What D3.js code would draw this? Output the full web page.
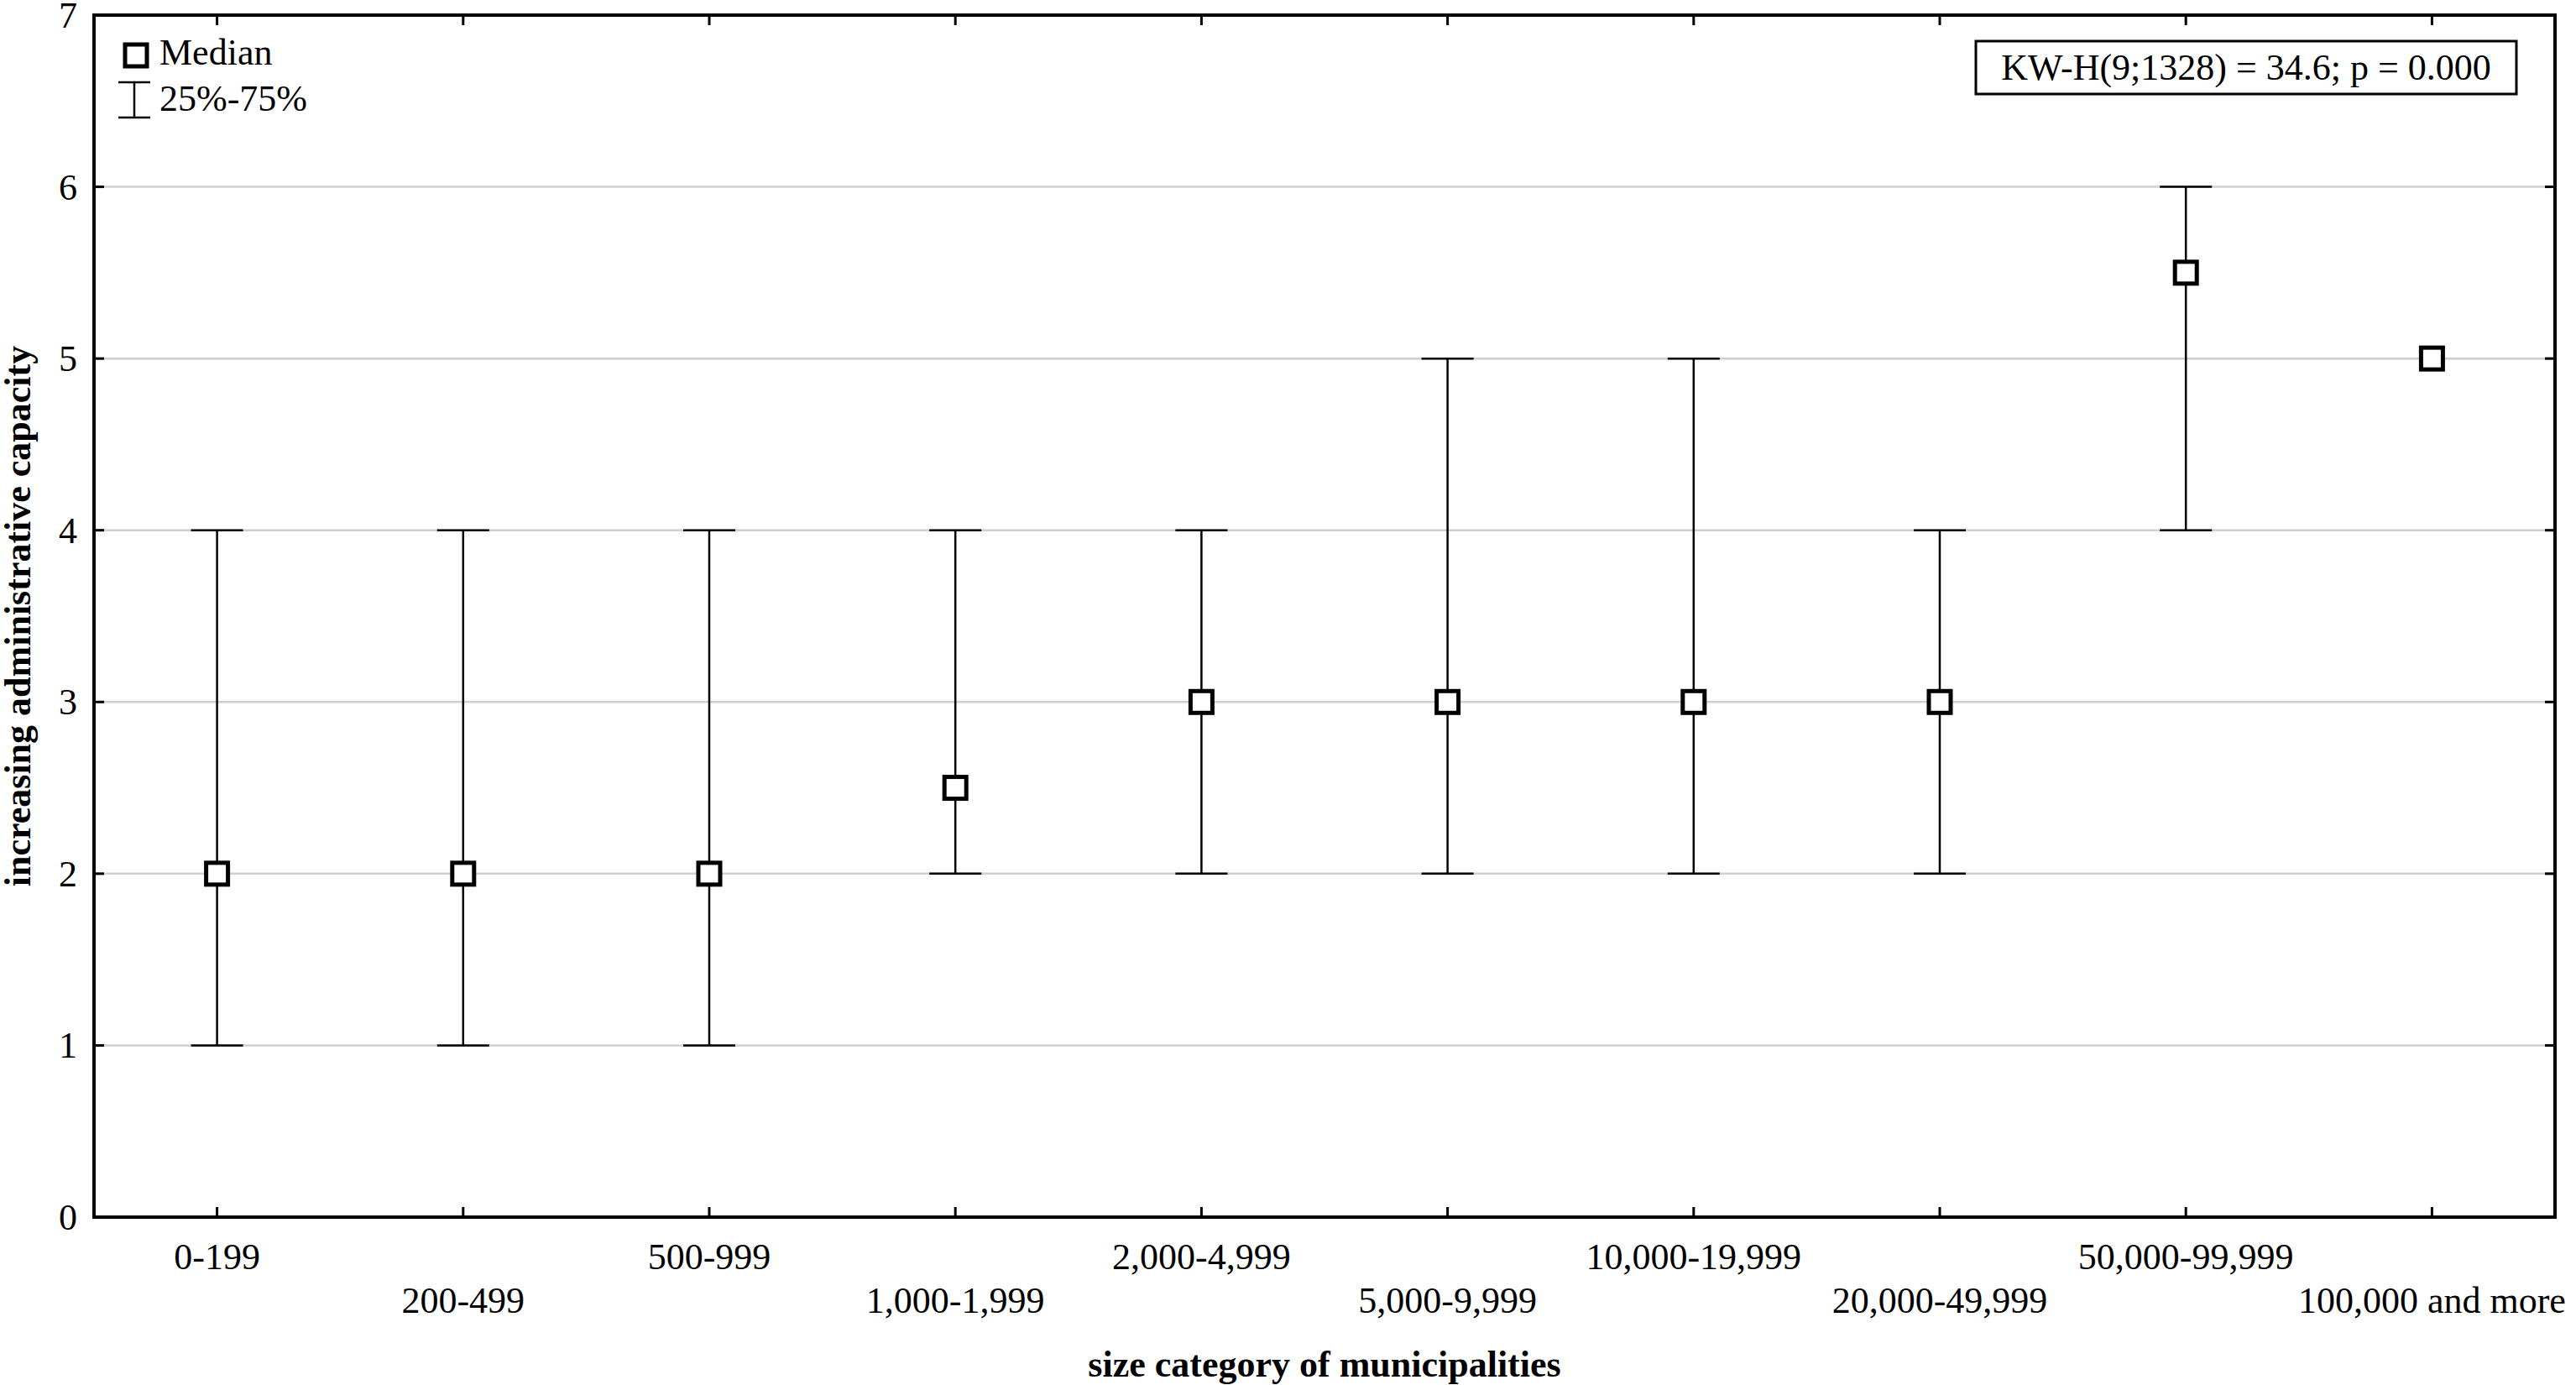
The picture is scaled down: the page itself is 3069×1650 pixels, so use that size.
<!DOCTYPE html>
<html>
<head>
<meta charset="utf-8">
<script src="https://cdn.jsdelivr.net/npm/d3@7"></script>
<style>
  body { margin: 0; background: #fff; }
  text { font-family: "Liberation Serif", "Times New Roman", serif; fill: #000; }
</style>
</head>
<body>
<div id="chart"></div>
<script>
const categories = ['0-199', '200-499', '500-999', '1,000-1,999', '2,000-4,999', '5,000-9,999',
    '10,000-19,999', '20,000-49,999', '50,000-99,999', '100,000 and more'];
const medians = [2, 2, 2, 2.5, 3, 3, 3, 3, 5.5, 5];
const q25 = [1, 1, 1, 2, 2, 2, 2, 2, 4, 5];
const q75 = [4, 4, 4, 4, 4, 5, 5, 4, 6, 5];
const yTicks = [0, 1, 2, 3, 4, 5, 6, 7];

const width = 3069, height = 1650;
const plotLeft = 112, plotRight = 3044, plotTop = 18, plotBottom = 1450;

const svg = d3.select('#chart').append('svg')
    .attr('width', width).attr('height', height);

const x = d3.scalePoint().domain(categories).range([plotLeft, plotRight]).padding(0.5);
const y = d3.scaleLinear().domain([0, 7]).range([plotBottom, plotTop]);

// grid
svg.selectAll('.grid').data(yTicks.slice(1, -1)).enter().append('line')
    .attr('x1', plotLeft).attr('x2', plotRight)
    .attr('y1', d => y(d)).attr('y2', d => y(d))
    .attr('stroke', '#d0d0d0').attr('stroke-width', 2.5);

// frame
svg.append('rect').attr('x', plotLeft).attr('y', plotTop)
    .attr('width', plotRight - plotLeft).attr('height', plotBottom - plotTop)
    .attr('fill', 'none').attr('stroke', '#000').attr('stroke-width', 4);

// ticks
const tick = 12;
svg.selectAll('.yt').data(yTicks).enter().append('line')
    .attr('x1', plotLeft).attr('x2', plotLeft + tick)
    .attr('y1', d => y(d)).attr('y2', d => y(d)).attr('stroke', '#000').attr('stroke-width', 3);
svg.selectAll('.yt2').data(yTicks).enter().append('line')
    .attr('x1', plotRight).attr('x2', plotRight - tick)
    .attr('y1', d => y(d)).attr('y2', d => y(d)).attr('stroke', '#000').attr('stroke-width', 3);
svg.selectAll('.xt').data(categories).enter().append('line')
    .attr('x1', d => x(d)).attr('x2', d => x(d))
    .attr('y1', plotBottom).attr('y2', plotBottom - tick).attr('stroke', '#000').attr('stroke-width', 3);
svg.selectAll('.xt2').data(categories).enter().append('line')
    .attr('x1', d => x(d)).attr('x2', d => x(d))
    .attr('y1', plotTop).attr('y2', plotTop + tick).attr('stroke', '#000').attr('stroke-width', 3);

// tick labels
svg.selectAll('.yl').data(yTicks).enter().append('text')
    .attr('x', 92).attr('y', d => y(d) + 15)
    .attr('text-anchor', 'end').attr('font-size', 44).text(d => d);
svg.selectAll('.xl').data(categories).enter().append('text')
    .attr('x', d => x(d)).attr('y', (d, i) => i % 2 ? 1564 : 1512)
    .attr('text-anchor', 'middle').attr('font-size', 44).text(d => d);

// axis titles
svg.append('text').attr('x', (plotLeft + plotRight) / 2).attr('y', 1640)
    .attr('text-anchor', 'middle').attr('font-size', 44).attr('font-weight', 'bold')
    .text('size category of municipalities');
svg.append('text').attr('transform', `translate(36, ${(plotTop + plotBottom) / 2}) rotate(-90)`)
    .attr('text-anchor', 'middle').attr('font-size', 44).attr('font-weight', 'bold')
    .text('increasing administrative capacity');

// whiskers
const cap = 31;
const data = categories.map((c, i) => ({ c, m: medians[i], lo: q25[i], hi: q75[i] }));
const g = svg.selectAll('.pt').data(data.filter(d => d.hi > d.lo)).enter().append('g')
    .attr('stroke', '#000').attr('stroke-width', 2.5);
g.append('line').attr('x1', d => x(d.c)).attr('x2', d => x(d.c))
    .attr('y1', d => y(d.lo)).attr('y2', d => y(d.hi));
g.append('line').attr('x1', d => x(d.c) - cap).attr('x2', d => x(d.c) + cap)
    .attr('y1', d => y(d.lo)).attr('y2', d => y(d.lo));
g.append('line').attr('x1', d => x(d.c) - cap).attr('x2', d => x(d.c) + cap)
    .attr('y1', d => y(d.hi)).attr('y2', d => y(d.hi));

// median squares
const s = 26;
svg.selectAll('.med').data(data).enter().append('rect')
    .attr('x', d => x(d.c) - s / 2).attr('y', d => y(d.m) - s / 2)
    .attr('width', s).attr('height', s)
    .attr('fill', '#fff').attr('stroke', '#000').attr('stroke-width', 5);

// legend
svg.append('rect').attr('x', 149).attr('y', 53).attr('width', 26).attr('height', 26)
    .attr('fill', '#fff').attr('stroke', '#000').attr('stroke-width', 5);
svg.append('text').attr('x', 190).attr('y', 77).attr('font-size', 44).text('Median');
const lg = svg.append('g').attr('stroke', '#000').attr('stroke-width', 2.5);
lg.append('line').attr('x1', 160).attr('x2', 160).attr('y1', 98).attr('y2', 140);
lg.append('line').attr('x1', 141).attr('x2', 179).attr('y1', 98).attr('y2', 98);
lg.append('line').attr('x1', 141).attr('x2', 179).attr('y1', 140).attr('y2', 140);
svg.append('text').attr('x', 190).attr('y', 132).attr('font-size', 44).text('25%-75%');

// stats box
svg.append('rect').attr('x', 2354).attr('y', 49).attr('width', 644).attr('height', 63)
    .attr('fill', '#fff').attr('stroke', '#000').attr('stroke-width', 3);
svg.append('text').attr('x', 2676).attr('y', 95).attr('text-anchor', 'middle')
    .attr('font-size', 44).text('KW-H(9;1328) = 34.6; p = 0.000');
</script>
</body>
</html>
